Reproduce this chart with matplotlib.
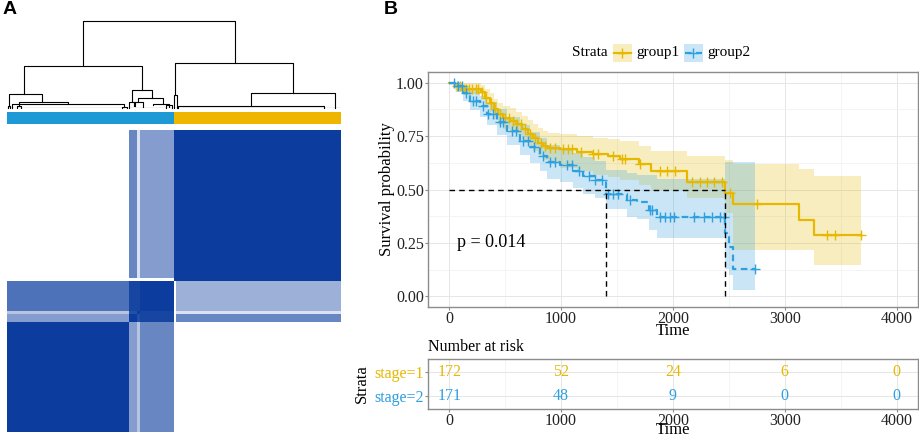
import numpy as np
import matplotlib
matplotlib.use("Agg")
import matplotlib.pyplot as plt
from matplotlib.colors import LinearSegmentedColormap
from matplotlib.patches import Rectangle
from matplotlib.lines import Line2D

plt.rcParams["font.family"] = ["Liberation Serif", "DejaVu Serif"]

# ---- panel A data ----
# consensus clusters in heatmap order: large blue, three small blue sub-groups,
# a few edge yellow samples, main yellow
block_sizes = [125, 9, 3, 34, 3, 169]
# rows = samples drawn bottom to top, columns = samples left to right
block_cons = [
    [1.00, 0.50, 0.30, 0.62, 0.00, 0.00],
    [0.50, 1.00, 0.90, 0.95, 0.00, 0.62],
    [0.30, 0.90, 1.00, 0.95, 0.00, 0.15],
    [0.72, 0.95, 0.95, 1.00, 0.00, 0.40],
    [0.00, 0.00, 0.00, 0.00, 1.00, 1.00],
    [0.00, 0.62, 0.15, 0.50, 1.00, 1.00],
]
group_sizes = [171, 172]
group_bar_colors = ["#1D9AD6", "#EFB600"]
# dendrogram links: x left, x right (sample index), top height, left bottom, right bottom
dendro_links = [
    (78, 234, 1.00, 0.481, 0.515),
    (17.5, 138.5, 0.481, 0.160, 0.210),
    (173, 294, 0.515, 0.150, 0.172),
    (2, 36, 0.160, 0.025, 0.069),
    (12, 62.5, 0.069, 0.020, 0.046),
    (5, 120, 0.046, 0.005, 0.010),
    (1, 3, 0.025, 0.0, 0.0),
    (10, 14, 0.020, 0.0, 0.0),
    (118, 123, 0.010, 0.0, 0.0),
    (128, 149, 0.210, 0.070, 0.110),
    (135, 160, 0.110, 0.070, 0.050),
    (150, 166, 0.050, 0.030, 0.010),
    (125, 131, 0.070, 0.0, 0.020),
    (130, 140, 0.070, 0.020, 0.010),
    (163, 169, 0.030, 0.0, 0.0),
    (171.5, 174.5, 0.150, 0.0, 0.0),
    (251, 336.5, 0.172, 0.023, 0.0),
    (176, 326, 0.023, 0.0, 0.0),
]

# ---- panel B data ----
t1 = [0, 50, 110, 280, 320, 360, 400, 440, 480, 540, 600, 650, 700, 750, 790, 840, 880, 990, 1140, 1290,
      1420, 1530, 1700, 1800, 2130, 2470, 2540, 3125, 3258]
s1 = [1.0, 0.985, 0.972, 0.955, 0.93, 0.905, 0.875, 0.852, 0.837, 0.822, 0.808, 0.785, 0.762, 0.74, 0.72,
      0.705, 0.695, 0.688, 0.677, 0.665, 0.657, 0.645, 0.62, 0.588, 0.533, 0.482, 0.431, 0.357, 0.287]
up1 = [1.0, 1.0, 1.0, 0.99, 0.97, 0.95, 0.925, 0.905, 0.89, 0.88, 0.865, 0.845, 0.825, 0.805, 0.79,
       0.775, 0.765, 0.76, 0.75, 0.74, 0.735, 0.725, 0.705, 0.68, 0.655, 0.64, 0.62, 0.597, 0.561]
lo1 = [1.0, 0.96, 0.945, 0.925, 0.895, 0.865, 0.83, 0.80, 0.785, 0.77, 0.755, 0.73, 0.705, 0.68, 0.66,
       0.64, 0.63, 0.60, 0.585, 0.57, 0.56, 0.545, 0.52, 0.5, 0.46, 0.39, 0.217, 0.217, 0.147]
end1 = 3680
cens1 = [70, 95, 130, 150, 175, 200, 235, 260, 290, 330, 370, 410, 450, 500, 530, 570, 610, 640, 680, 720,
         770, 820, 860, 900, 950, 1020, 1060, 1100, 1180, 1290, 1334, 1460, 1543, 1573, 1707, 1886, 1946,
         2020, 2170, 2244, 2304, 2364, 2438, 2513, 2752, 3378, 3453, 3680]

t2 = [0, 60, 120, 185, 275, 336, 425, 515, 633, 722, 812, 875, 991, 1110, 1200, 1300, 1400, 1590, 1680,
      1790, 1860, 2468, 2500, 2535]
s2 = [1.0, 0.985, 0.953, 0.915, 0.892, 0.854, 0.814, 0.775, 0.729, 0.698, 0.659, 0.628, 0.613, 0.585,
      0.562, 0.543, 0.478, 0.45, 0.44, 0.403, 0.372, 0.296, 0.233, 0.129]
up2 = [1.0, 1.0, 0.985, 0.96, 0.94, 0.91, 0.875, 0.84, 0.80, 0.77, 0.74, 0.71, 0.695, 0.67, 0.65, 0.635,
       0.59, 0.575, 0.57, 0.57, 0.55, 0.63, 0.63, 0.63]
lo2 = [1.0, 0.955, 0.915, 0.87, 0.84, 0.80, 0.755, 0.71, 0.66, 0.625, 0.585, 0.55, 0.535, 0.505, 0.48,
       0.46, 0.41, 0.37, 0.36, 0.31, 0.273, 0.13, 0.10, 0.031]
end2 = 2735
cens2 = [40, 80, 110, 150, 210, 240, 300, 350, 390, 450, 480, 560, 600, 660, 700, 760, 840, 900, 950, 1051,
         1095, 1160, 1250, 1304, 1364, 1424, 1468, 1513, 1618, 1797, 1812, 1886, 1931, 1976, 2006, 2185,
         2274, 2349, 2423, 2453, 2735]

median1 = 2470
median2 = 1400
pval_text = "p = 0.014"

risk_times = [0, 1000, 2000, 3000, 4000]
risk1 = [172, 52, 24, 6, 0]
risk2 = [171, 48, 9, 0, 0]
group_names = ["group1", "group2"]
strata_names = ["stage=1", "stage=2"]
km_colors = ["#E7B800", "#2E9FDF"]

W, H = 920, 438
fig = plt.figure(figsize=(W / 100, H / 100), dpi=100)


def px_axes(l, t, r, b):
    return fig.add_axes([l / W, 1 - b / H, (r - l) / W, (b - t) / H])


# ---------------- panel A ----------------
fig.text(3 / W, 1 - 1 / H, "A", fontsize=14, fontweight="bold", family="Liberation Sans", va="top")
n = sum(block_sizes)

axd = px_axes(7, 20.7, 341, 108)
for x1, x2, top, h1, h2 in dendro_links:
    axd.plot([x1, x1, x2, x2], [h1, top, top, h2], color="black", lw=0.8, clip_on=False)
axd.plot([0, n], [0, 0], color="black", lw=0.8)
axd.set_xlim(0, n)
axd.set_ylim(0, 1)
axd.axis("off")

axc = px_axes(7, 112, 341, 124)
start = 0
for size, col in zip(group_sizes, group_bar_colors):
    axc.barh(0, size, left=start, height=1, color=col)
    start += size
axc.set_xlim(0, n)
axc.set_ylim(-0.5, 0.5)
axc.axis("off")

axh = px_axes(7, 130, 341, 432)
labels = np.repeat(np.arange(len(block_sizes)), block_sizes)
cons = np.array(block_cons)[labels][:, labels]
cmap = LinearSegmentedColormap.from_list("cons", ["white", "#0B3C9E"])
axh.imshow(cons, cmap=cmap, vmin=0, vmax=1, origin="lower", aspect="auto", interpolation="nearest")
axh.axis("off")

# ---------------- panel B ----------------
fig.text(384 / W, 1 - 1 / H, "B", fontsize=14, fontweight="bold", family="Liberation Sans", va="top")

grid_col = "#E6E6E6"
border_col = "#8C8C8C"

ax = px_axes(428, 72, 918, 307)
ax.set_xlim(-190, 4192)
ax.set_ylim(-0.05, 1.05)
ax.set_xticks(risk_times)
ax.set_xticks([500, 1500, 2500, 3500], minor=True)
ax.set_yticks([0, 0.25, 0.5, 0.75, 1.0])
ax.set_yticklabels(["0.00", "0.25", "0.50", "0.75", "1.00"])
ax.set_yticks([0.125, 0.375, 0.625, 0.875], minor=True)
ax.grid(True, which="major", color=grid_col, lw=0.7)
ax.grid(True, which="minor", color="#F0F0F0", lw=0.5)
ax.set_axisbelow(True)
for sp in ax.spines.values():
    sp.set_color(border_col)
    sp.set_linewidth(1.0)
ax.tick_params(which="major", length=2.5, color=border_col, labelsize=11.5, pad=0.5, labelcolor="#222222")
ax.tick_params(which="minor", length=0)

series = [(t1, s1, up1, lo1, end1, cens1), (t2, s2, up2, lo2, end2, cens2)]
for (t, s, up, lo, end, cens), col in zip(series, km_colors):
    tt = list(t) + [end]
    ax.fill_between(tt, list(lo) + [lo[-1]], list(up) + [up[-1]], step="post", color=col, alpha=0.25, lw=0)

for i, ((t, s, up, lo, end, cens), col) in enumerate(zip(series, km_colors)):
    tt = list(t) + [end]
    ss = list(s) + [s[-1]]
    ls = "-" if i == 0 else (0, (3, 2))
    ax.step(tt, ss, where="post", color=col, lw=1.6, linestyle=ls)
    idx = np.searchsorted(t, cens, side="right") - 1
    ax.plot(cens, np.array(s)[idx], linestyle="none", marker="+", color=col, ms=7, mew=1.0)

med_kw = dict(color="black", lw=1.0, linestyle=(0, (4, 3)))
ax.plot([0, median1], [0.5, 0.5], **med_kw)
ax.plot([median1, median1], [0, 0.5], **med_kw)
ax.plot([median2, median2], [0, 0.5], **med_kw)
ax.text(70, 0.25, pval_text, fontsize=13, va="center", ha="left")
ax.set_xlabel("Time", fontsize=12, labelpad=-3)
ax.set_ylabel("Survival probability", fontsize=12, labelpad=1)

# legend
ly = 1 - 52.7 / H
fig.text(572 / W, ly, "Strata", fontsize=11, va="center", ha="left")
key_x = [(613, 632), (684, 703)]
text_x = [636, 707]
for (kx0, kx1), tx, col, name, i in zip(key_x, text_x, km_colors, group_names, range(2)):
    fig.add_artist(Rectangle((kx0 / W, 1 - 62 / H), (kx1 - kx0) / W, 18 / H, transform=fig.transFigure,
                             facecolor=col, alpha=0.25, lw=0))
    ls = "-" if i == 0 else (0, (3, 2))
    fig.add_artist(Line2D([(kx0 + 1) / W, (kx1 - 1) / W], [ly, ly], transform=fig.transFigure,
                          color=col, lw=1.6, linestyle=ls))
    fig.add_artist(Line2D([(kx0 + kx1) / 2 / W], [ly], transform=fig.transFigure, color=col,
                          marker="+", ms=7, mew=1.0, linestyle="none"))
    fig.text(tx / W, ly, name, fontsize=11, va="center", ha="left")

# risk table
axr = px_axes(428, 359, 918, 409)
axr.set_xlim(-190, 4192)
axr.set_ylim(0.45, 2.52)
axr.set_xticks(risk_times)
axr.set_xticks([500, 1500, 2500, 3500], minor=True)
axr.set_yticks([2, 1])
axr.set_yticklabels(strata_names)
axr.grid(True, which="major", color=grid_col, lw=0.7)
axr.grid(True, which="minor", axis="x", color="#F0F0F0", lw=0.5)
axr.set_axisbelow(True)
for sp in axr.spines.values():
    sp.set_color(border_col)
    sp.set_linewidth(1.0)
axr.tick_params(which="major", length=2.5, color=border_col, labelsize=11.5, pad=0.5, labelcolor="#222222")
for lab, col in zip(axr.get_yticklabels(), km_colors):
    lab.set_color(col)
axr.tick_params(which="minor", length=0)
for tm, a, b in zip(risk_times, risk1, risk2):
    axr.text(tm, 2, str(a), color=km_colors[0], fontsize=11.5, ha="center", va="center")
    axr.text(tm, 1, str(b), color=km_colors[1], fontsize=11.5, ha="center", va="center")
axr.set_xlabel("Time", fontsize=12, labelpad=-5)
fig.text(428 / W, 1 - 346.7 / H, "Number at risk", fontsize=11.5, va="center", ha="left")
fig.text(362 / W, 1 - 384 / H, "Strata", fontsize=12, rotation=90, va="center", ha="center")

fig.savefig("out.png", dpi=100)
